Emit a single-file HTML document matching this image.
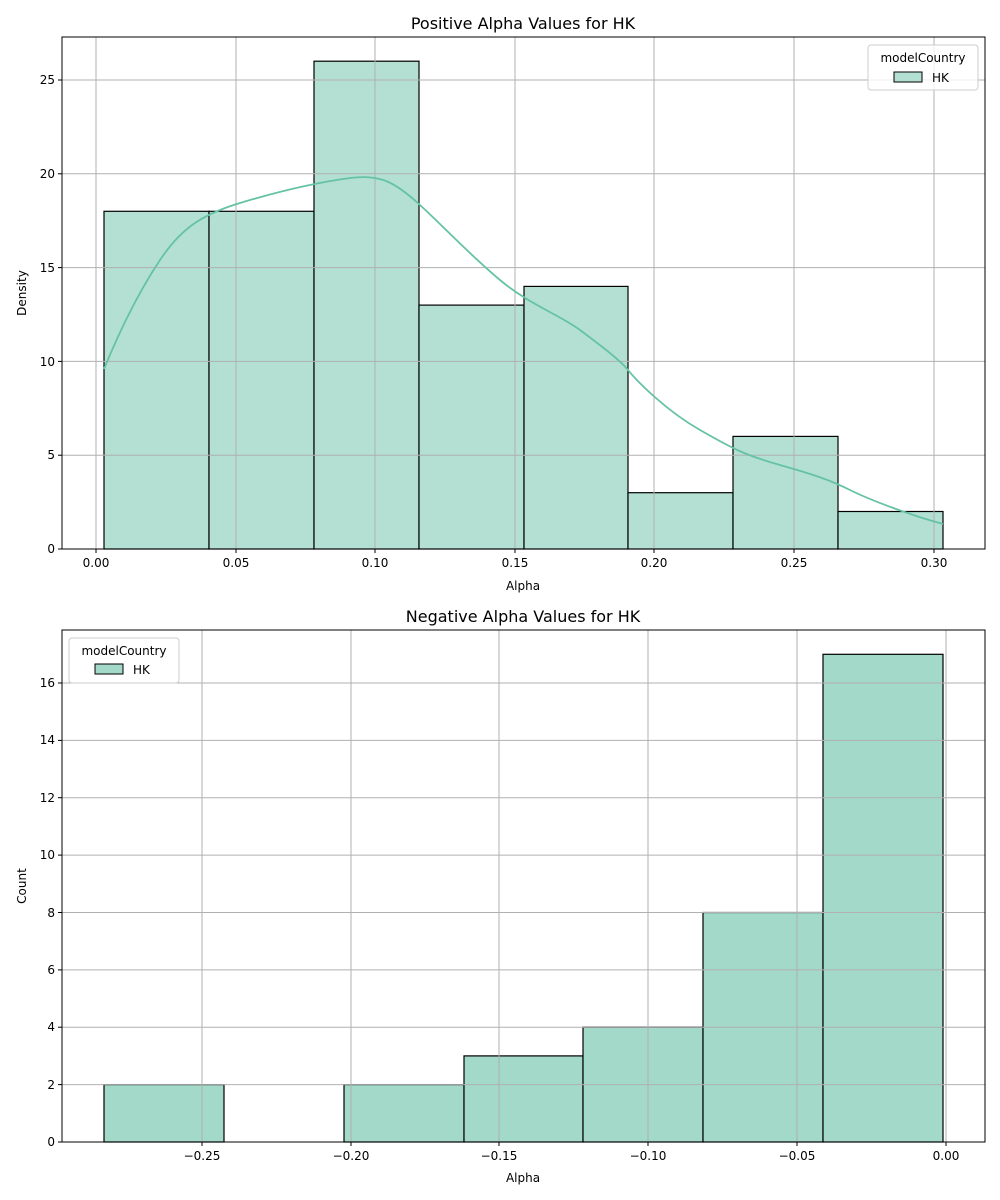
<!DOCTYPE html>
<html><head><meta charset="utf-8"><style>body{margin:0;background:#fff}svg{display:block}text{font-family:"DejaVu Sans","Liberation Sans",sans-serif}</style></head><body>
<svg width="1000" height="1200" xmlns="http://www.w3.org/2000/svg">
<rect width="1000" height="1200" fill="#fff"/>
<!-- TOP -->
<g stroke="#000" stroke-width="1.2" fill="#b3e0d2">
<rect x="104" y="211.3" width="105" height="337.7"/>
<rect x="209" y="211.3" width="105" height="337.7"/>
<rect x="314" y="61.2" width="105" height="487.8"/>
<rect x="419" y="305.1" width="105" height="243.9"/>
<rect x="524" y="286.4" width="104" height="262.6"/>
<rect x="628" y="492.7" width="105" height="56.3"/>
<rect x="733" y="436.4" width="105" height="112.6"/>
<rect x="838" y="511.5" width="105" height="37.5"/>
</g>
<g stroke="#b0b0b0" stroke-width="1">
<line x1="96" y1="37" x2="96" y2="549"/><line x1="236" y1="37" x2="236" y2="549"/><line x1="375" y1="37" x2="375" y2="549"/><line x1="515" y1="37" x2="515" y2="549"/><line x1="654" y1="37" x2="654" y2="549"/><line x1="794" y1="37" x2="794" y2="549"/><line x1="934" y1="37" x2="934" y2="549"/>
<line x1="62" y1="549" x2="985" y2="549"/><line x1="62" y1="455.2" x2="985" y2="455.2"/><line x1="62" y1="361.4" x2="985" y2="361.4"/><line x1="62" y1="267.6" x2="985" y2="267.6"/><line x1="62" y1="173.8" x2="985" y2="173.8"/><line x1="62" y1="80" x2="985" y2="80"/>
</g>
<path d="M104,369 C120,330 140,290 160,260 S200,215 240,203 S320,182 350,178 S395,182 420,205 S470,255 500,280 S560,315 580,330 S620,360 628,370 S665,410 700,430 S745,455 780,465 S830,480 850,490 S910,515 943,524" fill="none" stroke="#66c2a5" stroke-width="1.8"/>
<rect x="62" y="37" width="923" height="512" fill="none" stroke="#000" stroke-width="1"/>
<g font-size="12" fill="#000" text-anchor="middle">
<text x="96" y="567">0.00</text><text x="236" y="567">0.05</text><text x="375" y="567">0.10</text><text x="515" y="567">0.15</text><text x="654" y="567">0.20</text><text x="794" y="567">0.25</text><text x="934" y="567">0.30</text>
<text x="523" y="590">Alpha</text>
</g>
<g stroke="#000"><line x1="96" y1="549" x2="96" y2="553"/><line x1="236" y1="549" x2="236" y2="553"/><line x1="375" y1="549" x2="375" y2="553"/><line x1="515" y1="549" x2="515" y2="553"/><line x1="654" y1="549" x2="654" y2="553"/><line x1="794" y1="549" x2="794" y2="553"/><line x1="934" y1="549" x2="934" y2="553"/>
<line x1="58" y1="549" x2="62" y2="549"/><line x1="58" y1="455.2" x2="62" y2="455.2"/><line x1="58" y1="361.4" x2="62" y2="361.4"/><line x1="58" y1="267.6" x2="62" y2="267.6"/><line x1="58" y1="173.8" x2="62" y2="173.8"/><line x1="58" y1="80" x2="62" y2="80"/></g>
<g font-size="12" text-anchor="end"><text x="55" y="553">0</text><text x="55" y="459">5</text><text x="55" y="366">10</text><text x="55" y="272">15</text><text x="55" y="178">20</text><text x="55" y="84">25</text></g>
<text x="26" y="293" font-size="12" text-anchor="middle" transform="rotate(-90 26 293)">Density</text>
<text x="523" y="29" font-size="16" text-anchor="middle">Positive Alpha Values for HK</text>
<rect x="868" y="45" width="110" height="45" rx="3" fill="#fff" fill-opacity="0.8" stroke="#ccc"/>
<text x="923" y="62" font-size="12" text-anchor="middle">modelCountry</text>
<rect x="894" y="72" width="28" height="10" fill="#b3e0d2" stroke="#000"/>
<text x="932" y="82" font-size="12">HK</text>
<!-- BOTTOM -->
<g stroke="#000" stroke-width="1.2" fill="#a3d9c8">
<rect x="104" y="1084.6" width="120" height="57.4"/>
<rect x="344" y="1084.6" width="120" height="57.4"/>
<rect x="464" y="1055.9" width="119" height="86.1"/>
<rect x="583" y="1027.2" width="120" height="114.8"/>
<rect x="703" y="912.5" width="120" height="229.5"/>
<rect x="823" y="654.3" width="120" height="487.7"/>
</g>
<g stroke="#b0b0b0" stroke-width="1">
<line x1="202" y1="630" x2="202" y2="1142"/><line x1="351" y1="630" x2="351" y2="1142"/><line x1="499" y1="630" x2="499" y2="1142"/><line x1="648" y1="630" x2="648" y2="1142"/><line x1="797" y1="630" x2="797" y2="1142"/><line x1="946" y1="630" x2="946" y2="1142"/>
<line x1="62" y1="1142" x2="985" y2="1142"/><line x1="62" y1="1084.6" x2="985" y2="1084.6"/><line x1="62" y1="1027.2" x2="985" y2="1027.2"/><line x1="62" y1="969.9" x2="985" y2="969.9"/><line x1="62" y1="912.5" x2="985" y2="912.5"/><line x1="62" y1="855.1" x2="985" y2="855.1"/><line x1="62" y1="797.7" x2="985" y2="797.7"/><line x1="62" y1="740.4" x2="985" y2="740.4"/><line x1="62" y1="683" x2="985" y2="683"/>
</g>
<rect x="62" y="630" width="923" height="512" fill="none" stroke="#000" stroke-width="1"/>
<g font-size="12" text-anchor="middle">
<text x="202" y="1160">−0.25</text><text x="351" y="1160">−0.20</text><text x="499" y="1160">−0.15</text><text x="648" y="1160">−0.10</text><text x="797" y="1160">−0.05</text><text x="946" y="1160">0.00</text>
<text x="523" y="1182">Alpha</text>
</g>
<g stroke="#000"><line x1="202" y1="1142" x2="202" y2="1146"/><line x1="351" y1="1142" x2="351" y2="1146"/><line x1="499" y1="1142" x2="499" y2="1146"/><line x1="648" y1="1142" x2="648" y2="1146"/><line x1="797" y1="1142" x2="797" y2="1146"/><line x1="946" y1="1142" x2="946" y2="1146"/>
<line x1="58" y1="1142" x2="62" y2="1142"/><line x1="58" y1="1084.6" x2="62" y2="1084.6"/><line x1="58" y1="1027.2" x2="62" y2="1027.2"/><line x1="58" y1="969.9" x2="62" y2="969.9"/><line x1="58" y1="912.5" x2="62" y2="912.5"/><line x1="58" y1="855.1" x2="62" y2="855.1"/><line x1="58" y1="797.7" x2="62" y2="797.7"/><line x1="58" y1="740.4" x2="62" y2="740.4"/><line x1="58" y1="683" x2="62" y2="683"/></g>
<g font-size="12" text-anchor="end"><text x="55" y="1146">0</text><text x="55" y="1089">2</text><text x="55" y="1031">4</text><text x="55" y="974">6</text><text x="55" y="917">8</text><text x="55" y="859">10</text><text x="55" y="802">12</text><text x="55" y="744">14</text><text x="55" y="687">16</text></g>
<text x="26" y="886" font-size="12" text-anchor="middle" transform="rotate(-90 26 886)">Count</text>
<text x="523" y="622" font-size="16" text-anchor="middle">Negative Alpha Values for HK</text>
<rect x="69" y="638" width="110" height="45" rx="3" fill="#fff" fill-opacity="0.8" stroke="#ccc"/>
<text x="124" y="655" font-size="12" text-anchor="middle">modelCountry</text>
<rect x="95" y="664" width="28" height="10" fill="#a3d9c8" stroke="#000"/>
<text x="133" y="674" font-size="12">HK</text>
</svg>
</body></html>
